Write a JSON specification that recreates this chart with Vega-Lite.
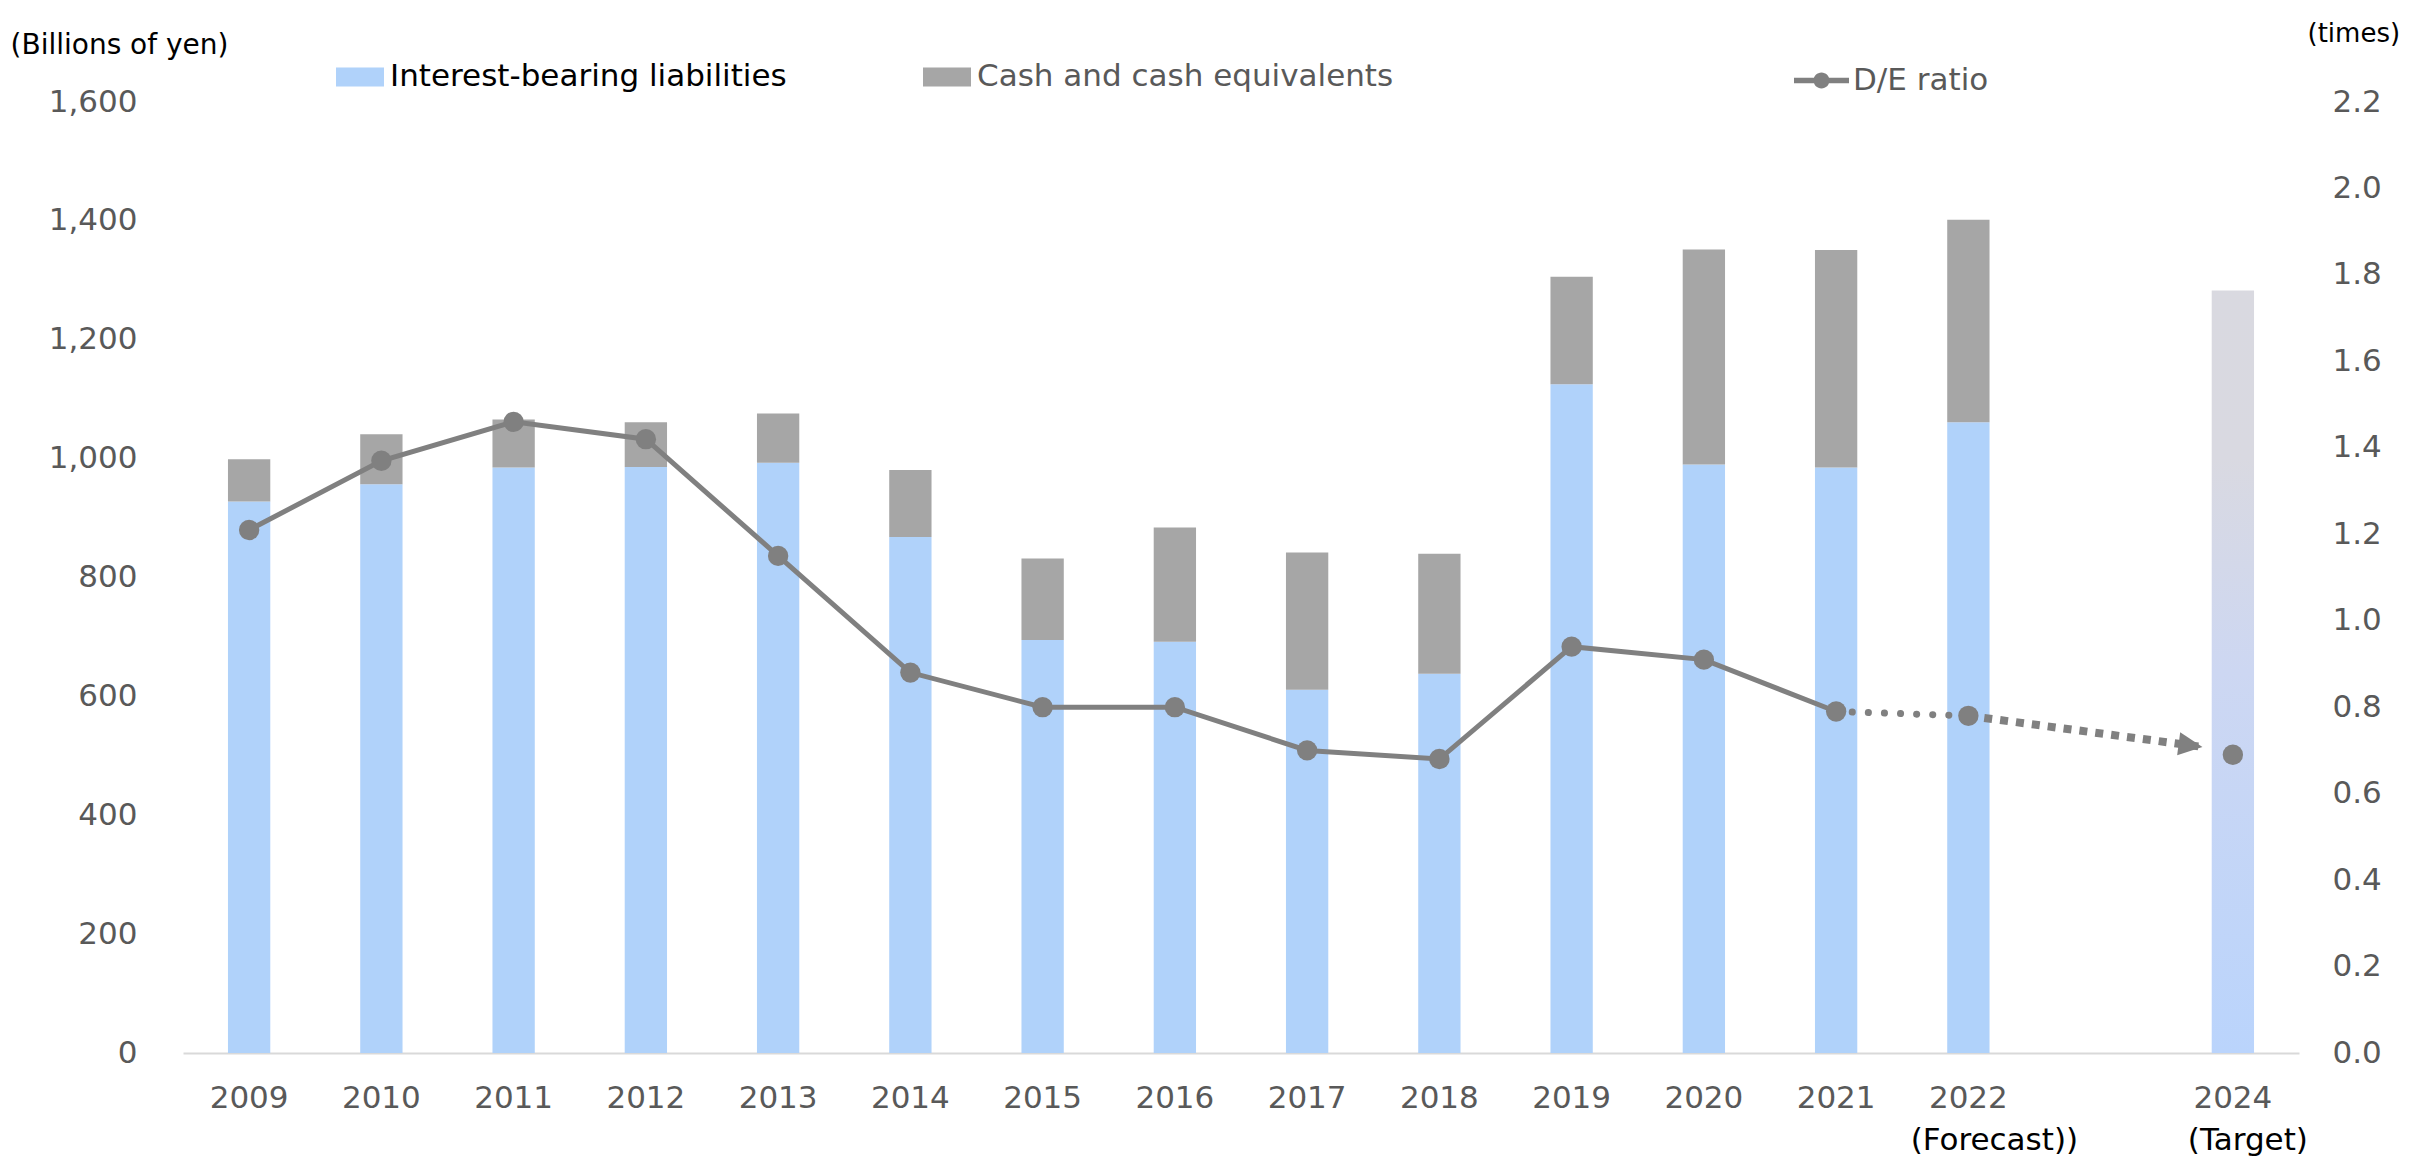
{
  "$schema": "https://vega.github.io/schema/vega-lite/v6.json",
  "autosize": {"type": "none"},
  "padding": {"left": 183, "top": 102, "right": 128, "bottom": 108},
  "width": 2116,
  "height": 951,
  "background": "#ffffff",
  "config": {
    "font": "DejaVu Sans",
    "view": {"stroke": null}
  },
  "datasets": {
    "bars": [
      {"year": "2009", "series": "Interest-bearing liabilities", "value": 928},
      {"year": "2009", "series": "Cash and cash equivalents", "value": 71},
      {"year": "2010", "series": "Interest-bearing liabilities", "value": 957},
      {"year": "2010", "series": "Cash and cash equivalents", "value": 84},
      {"year": "2011", "series": "Interest-bearing liabilities", "value": 985},
      {"year": "2011", "series": "Cash and cash equivalents", "value": 81},
      {"year": "2012", "series": "Interest-bearing liabilities", "value": 986},
      {"year": "2012", "series": "Cash and cash equivalents", "value": 75},
      {"year": "2013", "series": "Interest-bearing liabilities", "value": 993},
      {"year": "2013", "series": "Cash and cash equivalents", "value": 83},
      {"year": "2014", "series": "Interest-bearing liabilities", "value": 868},
      {"year": "2014", "series": "Cash and cash equivalents", "value": 113},
      {"year": "2015", "series": "Interest-bearing liabilities", "value": 695},
      {"year": "2015", "series": "Cash and cash equivalents", "value": 137},
      {"year": "2016", "series": "Interest-bearing liabilities", "value": 692},
      {"year": "2016", "series": "Cash and cash equivalents", "value": 192},
      {"year": "2017", "series": "Interest-bearing liabilities", "value": 611},
      {"year": "2017", "series": "Cash and cash equivalents", "value": 231},
      {"year": "2018", "series": "Interest-bearing liabilities", "value": 638},
      {"year": "2018", "series": "Cash and cash equivalents", "value": 202},
      {"year": "2019", "series": "Interest-bearing liabilities", "value": 1125},
      {"year": "2019", "series": "Cash and cash equivalents", "value": 181},
      {"year": "2020", "series": "Interest-bearing liabilities", "value": 990},
      {"year": "2020", "series": "Cash and cash equivalents", "value": 362},
      {"year": "2021", "series": "Interest-bearing liabilities", "value": 985},
      {"year": "2021", "series": "Cash and cash equivalents", "value": 366},
      {"year": "2022", "series": "Interest-bearing liabilities", "value": 1061},
      {"year": "2022", "series": "Cash and cash equivalents", "value": 341}
    ],
    "target": [
      {"year": "2024", "value": 1283}
    ],
    "ratio": [
      {"yr": 2009, "de": 1.21},
      {"yr": 2010, "de": 1.37},
      {"yr": 2011, "de": 1.46},
      {"yr": 2012, "de": 1.42},
      {"yr": 2013, "de": 1.15},
      {"yr": 2014, "de": 0.88},
      {"yr": 2015, "de": 0.80},
      {"yr": 2016, "de": 0.80},
      {"yr": 2017, "de": 0.70},
      {"yr": 2018, "de": 0.68},
      {"yr": 2019, "de": 0.94},
      {"yr": 2020, "de": 0.91},
      {"yr": 2021, "de": 0.79},
      {"yr": 2022, "de": 0.78},
      {"yr": 2024, "de": 0.69}
    ],
    "arrow": [
      {"yr": 2022, "de": 0.78},
      {"yr": 2023.77, "de": 0.708}
    ]
  },
  "layer": [
    {
      "layer": [
        {
          "data": {"name": "bars"},
          "mark": {"type": "bar"},
          "encoding": {
            "x": {
              "field": "year", "type": "ordinal",
              "scale": {"domain": ["2009","2010","2011","2012","2013","2014","2015","2016","2017","2018","2019","2020","2021","2022","2023","2024"], "paddingInner": 0.68, "paddingOuter": 0.34},
              "axis": {
                "title": null, "labelAngle": 0, "ticks": false, "domainColor": "#D9D9D9", "domainWidth": 2,
                "labelFontSize": 31, "labelColor": "#595959", "labelPadding": 30,
                "labelBaseline": "top",
                "labelExpr": "datum.value == '2023' ? '' : datum.value"
              }
            },
            "y": {
              "field": "value", "type": "quantitative", "stack": "zero",
              "scale": {"domain": [0, 1600], "nice": false},
              "axis": {
                "values": [0, 200, 400, 600, 800, 1000, 1200, 1400, 1600], "format": ",.0f",
                "grid": false, "domain": false, "ticks": false,
                "labelPadding": 46, "labelFontSize": 31, "labelColor": "#595959",
                "title": "(Billions of yen)", "titleAngle": 0, "titleAlign": "left", "titleBaseline": "middle",
                "titleX": -173, "titleY": -57, "titleFontSize": 28, "titleFontWeight": "normal", "titleColor": "#000000"
              }
            },
            "color": {
              "field": "series", "type": "nominal",
              "scale": {"domain": ["Interest-bearing liabilities", "Cash and cash equivalents"], "range": ["#B0D2FA", "#A6A6A6"]},
              "legend": {
                "orient": "none", "legendX": 153, "legendY": -49, "direction": "horizontal", "title": null,
                "symbolType": "M-1,-0.4H1V0.4H-1Z", "symbolSize": 2304, "symbolStrokeWidth": 0,
                "labelFontSize": 31, "labelOffset": 6, "columnPadding": 136, "labelLimit": 0,
                "labelColor": "#000000",
                "encode": {"labels": {"update": {"fill": {"signal": "datum.label === 'Cash and cash equivalents' ? '#595959' : '#000000'"}}}}
              }
            },
            "order": {"field": "series", "sort": "descending"}
          }
        },
        {
          "data": {"name": "target"},
          "mark": {
            "type": "bar",
            "color": {
              "gradient": "linear", "x1": 0, "y1": 0, "x2": 0, "y2": 1,
              "stops": [
                {"offset": 0, "color": "#D9D9E0"},
                {"offset": 0.22, "color": "#D9D9E1"},
                {"offset": 0.5, "color": "#CDD7F2"},
                {"offset": 1, "color": "#BAD4FC"}
              ]
            }
          },
          "encoding": {
            "x": {
              "field": "year", "type": "ordinal",
              "axis": {
                "orient": "bottom", "title": null, "labelAngle": 0, "ticks": false, "domain": false,
                "labelFontSize": 31, "labelColor": "#000000", "labelPadding": 72, "labelBaseline": "top",
                "labelExpr": "datum.value == '2022' ? '(Forecast))' : datum.value == '2024' ? '(Target)' : ''",
                "labelOffset": {"condition": {"test": "datum.value == '2022'", "value": 26}, "value": 15}
              }
            },
            "y": {"field": "value", "type": "quantitative"}
          }
        }
      ],
      "resolve": {"axis": {"x": "independent"}}
    },
    {
      "layer": [
        {
          "data": {"name": "ratio"},
          "transform": [{"filter": "datum.yr <= 2021"}],
          "mark": {"type": "line", "color": "#808080", "strokeWidth": 5},
          "encoding": {
            "x": {"field": "yr", "type": "quantitative", "scale": {"domain": [2008.5, 2024.5], "nice": false, "zero": false}, "axis": null},
            "y": {
              "field": "de", "type": "quantitative",
              "scale": {"domain": [0, 2.2], "nice": false},
              "axis": {
                "orient": "right", "values": [0, 0.2, 0.4, 0.6, 0.8, 1.0, 1.2, 1.4, 1.6, 1.8, 2.0, 2.2], "format": ".1f",
                "grid": false, "domain": false, "ticks": false,
                "labelPadding": 33, "labelFontSize": 31, "labelColor": "#595959",
                "title": "(times)", "titleAngle": 0, "titleAlign": "left", "titleBaseline": "middle",
                "titleX": 8, "titleY": -69, "titleFontSize": 26, "titleFontWeight": "normal", "titleColor": "#000000"
              }
            }
          }
        },
        {
          "data": {"name": "ratio"},
          "transform": [{"filter": "datum.yr >= 2021 && datum.yr <= 2022"}],
          "mark": {"type": "line", "color": "#808080", "strokeWidth": 7, "strokeDash": [0.1, 16], "strokeCap": "round"},
          "encoding": {
            "x": {"field": "yr", "type": "quantitative"},
            "y": {"field": "de", "type": "quantitative"}
          }
        },
        {
          "data": {"name": "arrow"},
          "mark": {"type": "line", "color": "#808080", "strokeWidth": 8, "strokeDash": [8, 8], "strokeCap": "butt"},
          "encoding": {
            "x": {"field": "yr", "type": "quantitative"},
            "y": {"field": "de", "type": "quantitative"}
          }
        },
        {
          "data": {"name": "arrow"},
          "transform": [{"filter": "datum.yr > 2023"}],
          "mark": {"type": "point", "shape": "M0,0L-1,-0.48L-1,0.48Z", "size": 2304, "angle": 7.6, "filled": true, "color": "#808080", "opacity": 1},
          "encoding": {
            "x": {"field": "yr", "type": "quantitative"},
            "y": {"field": "de", "type": "quantitative"}
          }
        },
        {
          "data": {"name": "ratio"},
          "mark": {"type": "point", "filled": true, "size": 415, "opacity": 1, "strokeWidth": 0},
          "encoding": {
            "x": {"field": "yr", "type": "quantitative"},
            "y": {"field": "de", "type": "quantitative"},
            "fill": {
              "datum": "D/E ratio",
              "scale": {"range": ["#808080"]},
              "legend": {
                "orient": "none", "legendX": 1611, "legendY": -49, "direction": "horizontal", "title": null,
                "symbolType": "M-1,-0.1H1V0.1H-1Z M-0.29,0A0.29,0.29,0,1,1,0.29,0A0.29,0.29,0,1,1,-0.29,0Z",
                "symbolSize": 3025, "symbolStrokeWidth": 0, "symbolOpacity": 1,
                "labelFontSize": 31, "labelOffset": 4, "labelColor": "#595959", "labelLimit": 0
              }
            }
          }
        }
      ]
    }
  ],
  "resolve": {"scale": {"x": "independent", "y": "independent"}}
}
